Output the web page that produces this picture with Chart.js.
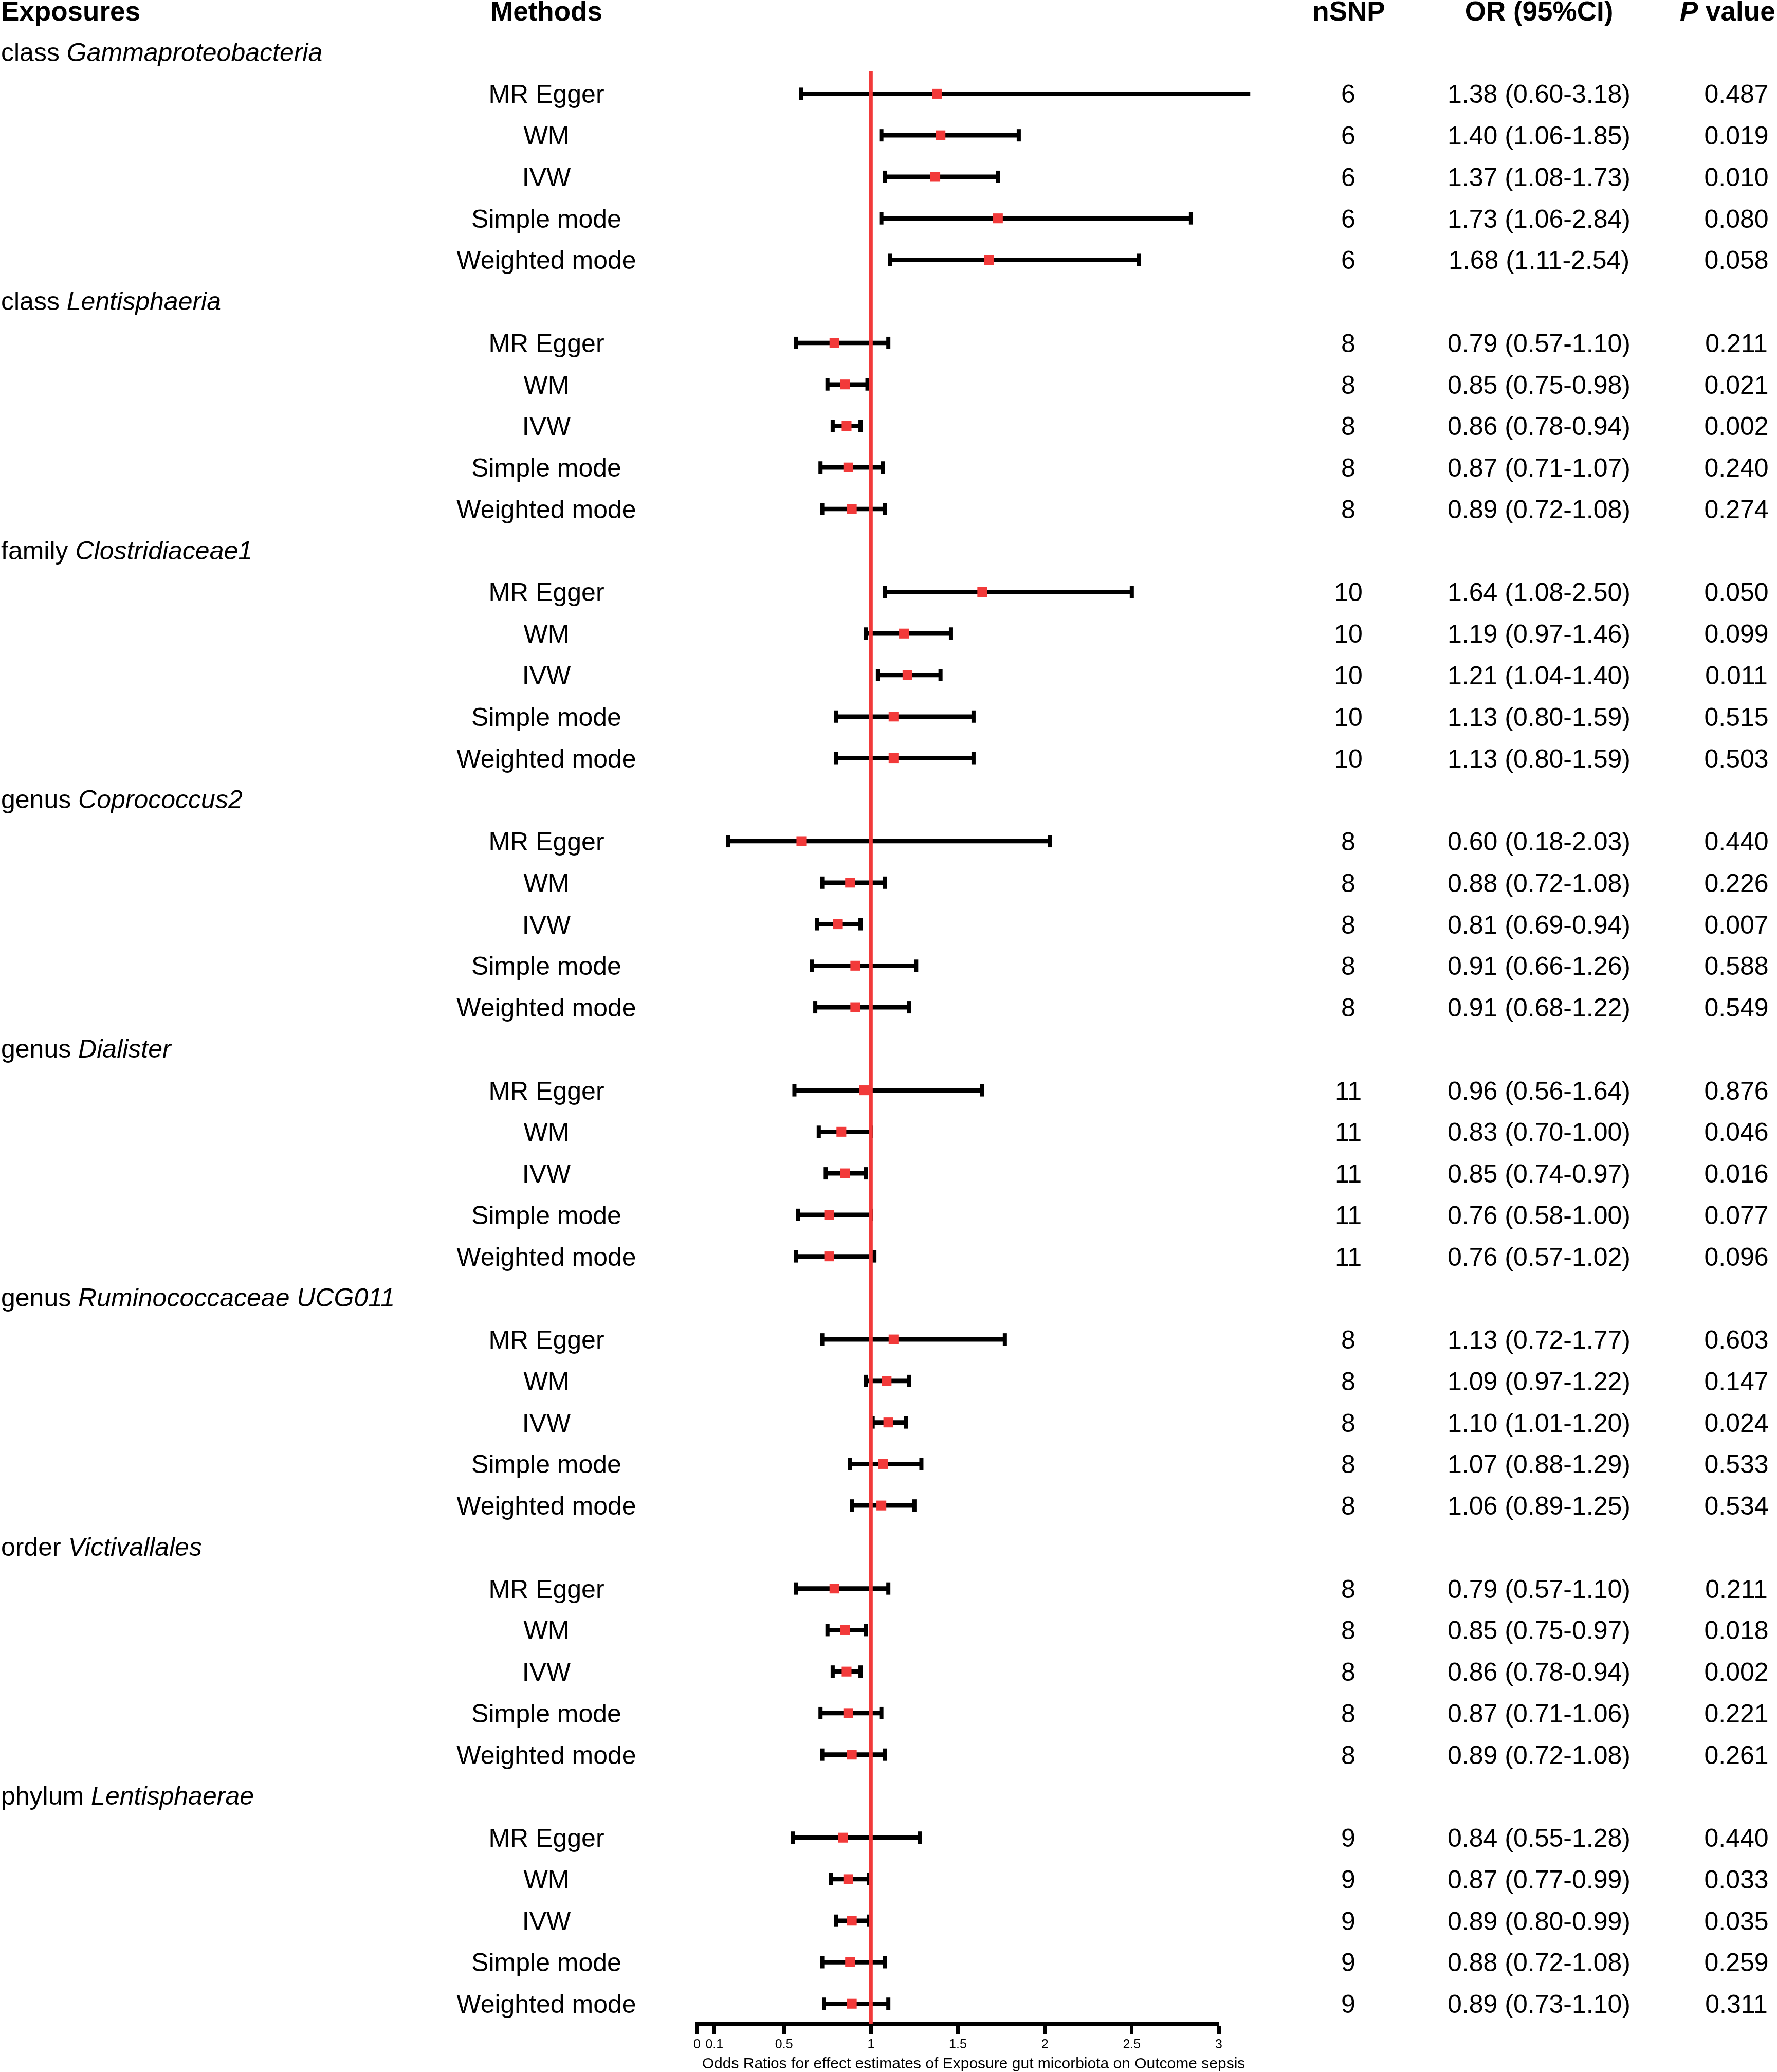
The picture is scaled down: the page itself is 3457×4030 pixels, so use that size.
<!DOCTYPE html>
<html>
<head>
<meta charset="utf-8">
<script src="https://cdn.jsdelivr.net/npm/chart.js@4"></script>
<style>
  html, body { margin: 0; padding: 0; background: #fff; overflow: hidden; }
  #wrap { width: 3457px; height: 4030px; position: relative; }
</style>
</head>
<body>
<div id="wrap"><canvas id="forest"></canvas></div>
<script>
// exposures: taxonomic rank (upright) + taxon name (italic)
const exposureRanks = ['class', 'class', 'family', 'genus', 'genus', 'genus', 'order', 'phylum'];
const exposureTaxa = ['Gammaproteobacteria', 'Lentisphaeria', 'Clostridiaceae1', 'Coprococcus2',
  'Dialister', 'Ruminococcaceae UCG011', 'Victivallales', 'Lentisphaerae'];
const methods = ['MR Egger', 'WM', 'IVW', 'Simple mode', 'Weighted mode'];
const nSNP = [6, 8, 10, 8, 11, 8, 8, 9];

// one inner array per exposure, in the order of `methods`
const orValues = [
  [1.38, 1.40, 1.37, 1.73, 1.68],
  [0.79, 0.85, 0.86, 0.87, 0.89],
  [1.64, 1.19, 1.21, 1.13, 1.13],
  [0.60, 0.88, 0.81, 0.91, 0.91],
  [0.96, 0.83, 0.85, 0.76, 0.76],
  [1.13, 1.09, 1.10, 1.07, 1.06],
  [0.79, 0.85, 0.86, 0.87, 0.89],
  [0.84, 0.87, 0.89, 0.88, 0.89]
];
const ciLower = [
  [0.60, 1.06, 1.08, 1.06, 1.11],
  [0.57, 0.75, 0.78, 0.71, 0.72],
  [1.08, 0.97, 1.04, 0.80, 0.80],
  [0.18, 0.72, 0.69, 0.66, 0.68],
  [0.56, 0.70, 0.74, 0.58, 0.57],
  [0.72, 0.97, 1.01, 0.88, 0.89],
  [0.57, 0.75, 0.78, 0.71, 0.72],
  [0.55, 0.77, 0.80, 0.72, 0.73]
];
const ciUpper = [
  [3.18, 1.85, 1.73, 2.84, 2.54],
  [1.10, 0.98, 0.94, 1.07, 1.08],
  [2.50, 1.46, 1.40, 1.59, 1.59],
  [2.03, 1.08, 0.94, 1.26, 1.22],
  [1.64, 1.00, 0.97, 1.00, 1.02],
  [1.77, 1.22, 1.20, 1.29, 1.25],
  [1.10, 0.97, 0.94, 1.06, 1.08],
  [1.28, 0.99, 0.99, 1.08, 1.10]
];
const pValues = [
  [0.487, 0.019, 0.010, 0.080, 0.058],
  [0.211, 0.021, 0.002, 0.240, 0.274],
  [0.050, 0.099, 0.011, 0.515, 0.503],
  [0.440, 0.226, 0.007, 0.588, 0.549],
  [0.876, 0.046, 0.016, 0.077, 0.096],
  [0.603, 0.147, 0.024, 0.533, 0.534],
  [0.211, 0.018, 0.002, 0.221, 0.261],
  [0.440, 0.033, 0.035, 0.259, 0.311]
];
const xTicks = [0, 0.1, 0.5, 1, 1.5, 2, 2.5, 3];
const nullValue = 1;
const axisTitle = 'Odds Ratios for effect estimates of Exposure gut micorbiota on Outcome sepsis';

const FONT = '"Liberation Sans", Arial, Helvetica, sans-serif';
const RED = '#f23a3a';
const Y_MIN = 0.45, Y_MAX = 47.48;

// row index: each exposure takes a header row followed by one row per method
const rowOf = (g, m) => g * (methods.length + 1) + 1 + m;

const ciBars = [], caps = [], points = [];
orValues.forEach((grp, g) => {
  grp.forEach((v, m) => {
    const r = rowOf(g, m);
    ciBars.push({ x: [ciLower[g][m], ciUpper[g][m]], y: r });
    caps.push({ x: ciLower[g][m], y: r }, { x: ciUpper[g][m], y: r });
    points.push({ x: v, y: r });
  });
});

const tablePlugin = {
  id: 'tableText',
  afterDraw(chart) {
    const ctx = chart.ctx;
    const ys = chart.scales.y;
    ctx.save();
    ctx.fillStyle = '#000';
    ctx.textBaseline = 'alphabetic';

    // header row
    const hy = ys.getPixelForValue(-1) + 19;
    ctx.font = 'bold 53px ' + FONT;
    ctx.textAlign = 'left';
    ctx.fillText('Exposures', 2, hy);
    ctx.textAlign = 'center';
    ctx.fillText('Methods', 1063, hy);
    ctx.fillText('nSNP', 2624, hy);
    ctx.fillText('OR (95%CI)', 2994, hy);
    ctx.textAlign = 'left';
    ctx.font = 'italic bold 53px ' + FONT;
    ctx.fillText('P', 3268, hy);
    const pw = ctx.measureText('P').width;
    ctx.font = 'bold 53px ' + FONT;
    ctx.fillText(' value', 3268 + pw, hy);

    exposureTaxa.forEach((taxon, g) => {
      const gy = ys.getPixelForValue(g * (methods.length + 1)) + 17;
      ctx.textAlign = 'left';
      ctx.font = '50px ' + FONT;
      const rank = exposureRanks[g] + ' ';
      ctx.fillText(rank, 2, gy);
      const rw = ctx.measureText(rank).width;
      ctx.font = 'italic 50px ' + FONT;
      ctx.fillText(taxon, 2 + rw, gy);

      ctx.font = '50px ' + FONT;
      ctx.textAlign = 'center';
      methods.forEach((name, m) => {
        const y = ys.getPixelForValue(rowOf(g, m)) + 18;
        ctx.fillText(name, 1063, y);
        ctx.fillText(String(nSNP[g]), 2623, y);
        ctx.fillText(orValues[g][m].toFixed(2) + ' (' + ciLower[g][m].toFixed(2) + '-' +
          ciUpper[g][m].toFixed(2) + ')', 2994, y);
        ctx.fillText(pValues[g][m].toFixed(3), 3378, y);
      });
    });

    // axis title
    ctx.font = '30px ' + FONT;
    ctx.textAlign = 'center';
    ctx.fillText(axisTitle, 1894, 4023);
    ctx.restore();
  }
};

new Chart(document.getElementById('forest'), {
  type: 'bar',
  data: {
    datasets: [
      {
        type: 'scatter',
        data: points,
        pointStyle: 'rect',
        pointRadius: 13.5,
        pointHoverRadius: 13.5,
        pointBackgroundColor: RED,
        pointBorderWidth: 0,
        clip: false,
        order: 0
      },
      {
        type: 'scatter',
        data: [{ x: nullValue, y: Y_MIN }, { x: nullValue, y: Y_MAX }],
        showLine: true,
        borderColor: RED,
        borderWidth: 7,
        pointRadius: 0,
        clip: false,
        order: 1
      },
      {
        type: 'scatter',
        data: caps,
        pointStyle: 'line',
        rotation: 90,
        pointRadius: 12,
        pointHoverRadius: 12,
        pointBorderColor: '#000',
        pointBorderWidth: 8,
        clip: false,
        order: 2
      },
      {
        type: 'bar',
        data: ciBars,
        indexAxis: 'y',
        backgroundColor: '#000',
        barThickness: 8,
        borderWidth: 0,
        clip: false,
        order: 3
      }
    ]
  },
  options: {
    indexAxis: 'y',
    responsive: true,
    maintainAspectRatio: false,
    devicePixelRatio: 1,
    animation: false,
    events: [],
    layout: { padding: { left: 1356, right: 1086, top: 138, bottom: 0 } },
    plugins: {
      legend: { display: false },
      tooltip: { enabled: false }
    },
    scales: {
      x: {
        type: 'linear',
        position: 'bottom',
        min: 0,
        max: 3,
        offset: false,
        afterBuildTicks: s => { s.ticks = xTicks.map(v => ({ value: v })); },
        afterFit: s => { s.height = 94; },
        ticks: {
          autoSkip: false,
          maxRotation: 0,
          padding: 6,
          color: '#000',
          font: { family: FONT, size: 25 },
          callback: v => String(v)
        },
        grid: {
          offset: false,
          drawOnChartArea: false,
          drawTicks: true,
          tickLength: 20,
          tickWidth: 7,
          tickColor: '#000'
        },
        border: { display: true, width: 8, color: '#000' }
      },
      y: {
        type: 'linear',
        display: false,
        reverse: true,
        offset: false,
        grid: { offset: false },
        min: Y_MIN,
        max: Y_MAX
      }
    }
  },
  plugins: [tablePlugin]
});
</script>
</body>
</html>
